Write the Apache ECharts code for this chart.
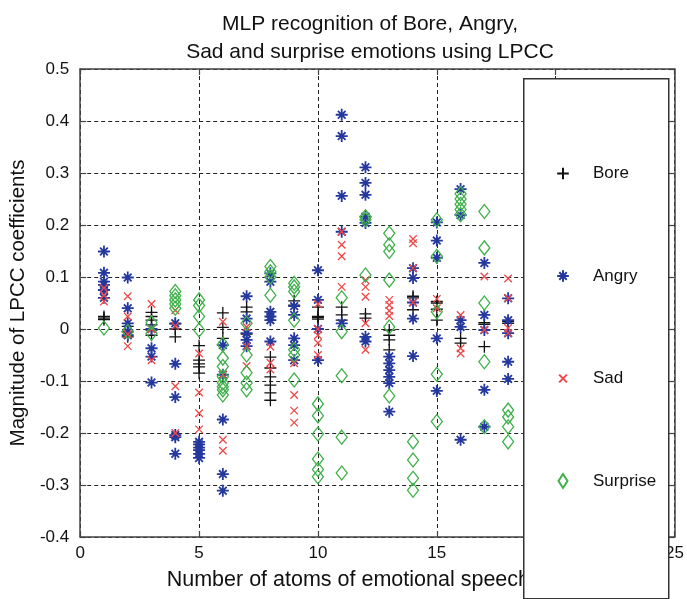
<!DOCTYPE html>
<html>
<head>
<meta charset="utf-8">
<script src="https://cdn.jsdelivr.net/npm/echarts@6/dist/echarts.min.js"></script>
<style>
html,body{margin:0;padding:0;background:#fff;}
#chart{width:687px;height:599px;}
</style>
</head>
<body>
<div id="chart"></div>
<script>
// ---- data (x = number of atoms, y = LPCC magnitude) ----
const seriesNames = ['Bore', 'Angry', 'Sad', 'Surprise'];
const xTicks = [0, 5, 10, 15, 20, 25];
const yTicks = [-0.4, -0.3, -0.2, -0.1, 0, 0.1, 0.2, 0.3, 0.4, 0.5];

const boreData = [
  [1,0.018],[1,0.021],[1,0.024],
  [2,0.005],[2,-0.005],[2,-0.015],
  [3,0.032],[3,0.024],[3,0.017],[3,0.008],[3,-0.002],[3,-0.012],
  [4,0.01],[4,0.0],[4,-0.015],
  [5,-0.032],[5,-0.06],[5,-0.067],[5,-0.073],[5,-0.085],
  [6,0.031],[6,0.003],[6,-0.018],
  [7,0.042],[7,0.033],[7,-0.01],
  [8,-0.054],[8,-0.075],[8,-0.092],[8,-0.108],[8,-0.123],[8,-0.137],
  [9,0.054],[9,0.046],
  [10,0.042],[10,0.019],[10,0.022],[10,0.024],
  [11,0.042],[11,0.027],[11,0.017],
  [12,0.029],[12,0.021],
  [13,-0.002],[13,-0.012],[13,-0.021],[13,-0.04],
  [14,0.06],[14,0.063],[14,0.037],
  [15,0.05],[15,0.053],[15,0.038],[15,0.017],
  [16,-0.018],[16,-0.027],
  [17,0.009],[17,0.012],[17,-0.034],
  [18,0.011],[18,0.014]
];
const angryData = [
  [1,0.149],[1,0.108],[1,0.091],[1,0.085],[1,0.075],[1,0.06],
  [2,0.099],[2,0.04],[2,0.011],[2,-0.005],[2,-0.012],
  [3,0.0],[3,-0.037],[3,-0.053],[3,-0.103],
  [4,0.011],[4,-0.067],[4,-0.131],[4,-0.204],[4,-0.208],[4,-0.24],
  [5,-0.217],[5,-0.222],[5,-0.228],[5,-0.233],[5,-0.24],[5,-0.248],
  [6,-0.031],[6,-0.088],[6,-0.174],[6,-0.279],[6,-0.311],
  [7,0.063],[7,0.02],[7,-0.008],[7,-0.021],[7,-0.033],
  [8,0.107],[8,0.091],[8,0.033],[8,0.024],[8,0.017],[8,-0.024],
  [9,0.044],[9,0.027],[9,-0.018],[9,-0.031],[9,-0.06],
  [10,0.113],[10,0.056],[10,0.0],[10,-0.06],
  [11,0.412],[11,0.371],[11,0.256],[11,0.187],[11,0.011],
  [12,0.311],[12,0.281],[12,0.258],[12,0.216],[12,0.204],[12,-0.015],[12,-0.024],
  [13,-0.053],[13,-0.066],[13,-0.079],[13,-0.092],[13,-0.104],[13,-0.159],
  [14,0.117],[14,0.098],[14,0.051],[14,0.02],[14,-0.052],
  [15,0.205],[15,0.17],[15,0.137],[15,-0.018],[15,-0.119],
  [16,0.269],[16,0.219],[16,0.017],[16,0.004],[16,-0.213],
  [17,0.127],[17,0.027],[17,-0.002],[17,-0.117],[17,-0.188],
  [18,0.059],[18,0.017],[18,-0.008],[18,-0.063],[18,-0.096]
];
const sadData = [
  [1,0.079],[1,0.065],[1,0.053],
  [2,0.063],[2,0.024],[2,-0.01],[2,-0.033],
  [3,0.048],[3,0.0],[3,-0.06],
  [4,0.036],[4,0.006],[4,-0.11],[4,-0.2],
  [5,-0.047],[5,-0.122],[5,-0.162],[5,-0.193],
  [6,0.014],[6,-0.088],[6,-0.213],[6,-0.234],
  [7,0.004],[7,-0.033],[7,-0.071],
  [8,-0.034],[8,-0.065],[8,-0.078],
  [9,-0.066],[9,-0.127],[9,-0.157],[9,-0.18],
  [10,0.048],[10,0.0],[10,-0.012],[10,-0.027],[10,-0.05],
  [11,0.187],[11,0.162],[11,0.14],[11,0.081],
  [12,0.094],[12,0.081],[12,0.062],[12,0.011],[12,-0.04],
  [13,0.056],[13,0.046],[13,0.035],[13,0.025],
  [14,0.173],[14,0.165],[14,0.117],[14,0.051],
  [15,0.058],[15,0.04],
  [16,0.027],[16,-0.037],[16,-0.047],
  [17,0.101],[17,-0.002],
  [18,0.097],[18,0.059],[18,0.002],[18,-0.008]
];
const surpriseData = [
  [1,0.002],
  [2,-0.005],
  [3,0.012],[3,-0.008],
  [4,0.072],[4,0.064],[4,0.056],[4,0.048],[4,0.04],
  [5,0.056],[5,0.045],[5,0.024],[5,-0.002],
  [6,-0.03],[6,-0.056],[6,-0.072],[6,-0.092],[6,-0.104],[6,-0.111],[6,-0.117],[6,-0.127],
  [7,0.011],[7,-0.05],[7,-0.084],[7,-0.104],[7,-0.117],
  [8,0.12],[8,0.11],[8,0.1],[8,0.065],
  [9,0.088],[9,0.081],[9,0.072],[9,0.017],[9,-0.04],[9,-0.05],[9,-0.098],
  [10,-0.144],[10,-0.167],[10,-0.202],[10,-0.25],[10,-0.27],[10,-0.284],
  [11,0.06],[11,-0.005],[11,-0.09],[11,-0.208],[11,-0.277],
  [12,0.216],[12,0.21],[12,0.104],
  [13,0.184],[13,0.162],[13,0.149],[13,0.094],[13,0.004],[13,-0.129],
  [14,-0.217],[14,-0.252],[14,-0.287],[14,-0.31],
  [15,0.21],[15,0.14],[15,0.033],[15,-0.087],[15,-0.178],
  [16,0.26],[16,0.25],[16,0.24],[16,0.23],[16,0.22],
  [17,0.226],[17,0.156],[17,0.05],[17,-0.063],[17,-0.188],
  [18,-0.156],[18,-0.169],[18,-0.188],[18,-0.217]
];

// ---- styling ----
const FONT = 'Liberation Sans, Arial, sans-serif';
const PLUS = 'path://M5,0L5,10M0,5L10,5';
const STAR = 'path://M5,0L5,10M0,5L10,5M1.8,1.8L8.2,8.2M8.2,1.8L1.8,8.2';
const CROSS = 'path://M0,0L10,10M10,0L0,10';
const DIAM = 'path://M5,0L10,7L5,14L0,7Z';
// legend icons padded with bounding moveTo points so they render smaller
const PLUS_L = 'path://M-1,-1M5,0L5,10M0,5L10,5M11,11';
const STAR_L = 'path://M-1,-1M5,0L5,10M0,5L10,5M1.8,1.8L8.2,8.2M8.2,1.8L1.8,8.2M11,11';
const CROSS_L = 'path://M-4,-4M0,0L10,10M10,0L0,10M14,14';
const DIAM_L = 'path://M5,0L9.5,7L5,14L0.5,7Z';

const chart = echarts.init(document.getElementById('chart'), null, {renderer: 'canvas'});

const gridLine = {show: true, lineStyle: {color: '#222', width: 1, type: [4, 3]}};
const axisLine = {show: true, onZero: false, lineStyle: {color: '#444', width: 1.5}};
const tick = {show: true, inside: true, length: 6, lineStyle: {color: '#444', width: 1.2}};
const lbl = {fontFamily: FONT, fontSize: 17, color: '#111'};

function mk(name, data, symbol, size, color, bw) {
  return {
    name: name, type: 'scatter', data: data, symbol: symbol, symbolSize: size,
    itemStyle: {color: 'transparent', borderColor: color, borderWidth: bw, opacity: 1},
    emphasis: {disabled: true}, z: 3
  };
}

chart.setOption({
  animation: false,
  backgroundColor: '#fff',
  title: {
    text: 'MLP recognition of Bore, Angry,\nSad and surprise emotions using LPCC',
    left: 365, top: 5, textAlign: 'center',
    textStyle: {fontFamily: FONT, fontSize: 21, fontWeight: 'normal', color: '#111', lineHeight: 28}
  },
  grid: {left: 79, top: 69, right: 11, bottom: 62, show: false},
  xAxis: [{
    type: 'value', min: 0, max: 25, interval: 5, position: 'bottom',
    axisLine: axisLine, axisTick: tick, splitLine: gridLine,
    axisLabel: Object.assign({margin: 8, formatter: v => String(v)}, lbl),
    name: 'Number of atoms of emotional speech', nameLocation: 'middle', nameGap: 32,
    nameTextStyle: {fontFamily: FONT, fontSize: 21.5, color: '#111', padding: [0, 58, 0, 0]}
  }, {
    type: 'value', min: 0, max: 25, interval: 5, position: 'top',
    axisLine: axisLine, axisTick: tick, splitLine: {show: false}, axisLabel: {show: false}
  }],
  yAxis: [{
    type: 'value', min: -0.4, max: 0.5, interval: 0.1, position: 'left',
    axisLine: axisLine, axisTick: tick, splitLine: gridLine,
    axisLabel: Object.assign({margin: 11, formatter: v => (Math.round(v * 10) / 10).toString()}, lbl),
    name: 'Magnitude of LPCC coefficients', nameLocation: 'middle', nameGap: 50,
    nameTextStyle: {fontFamily: FONT, fontSize: 20.5, color: '#111'}
  }, {
    type: 'value', min: -0.4, max: 0.5, interval: 0.1, position: 'right',
    axisLine: axisLine, axisTick: tick, splitLine: {show: false}, axisLabel: {show: false}
  }],
  legend: {
    orient: 'vertical', left: 555, top: 165, z: 120,
    itemWidth: 14, itemHeight: 14, itemGap: 85.5, padding: 0,
    data: [
      {name: seriesNames[0], icon: PLUS_L},
      {name: seriesNames[1], icon: STAR_L},
      {name: seriesNames[2], icon: CROSS_L},
      {name: seriesNames[3], icon: DIAM_L}
    ],
    textStyle: {fontFamily: FONT, fontSize: 17, color: '#111', padding: [0, 0, 0, 18]},
    selectedMode: false
  },
  graphic: [{
    type: 'rect', z: 100, left: 523, top: 78,
    shape: {width: 145, height: 520},
    style: {fill: '#fff', stroke: '#333', lineWidth: 1.5}
  }],
  series: [
    mk('Bore', boreData, PLUS, 12, '#111', 1.3),
    mk('Angry', angryData, STAR, 12, '#25389e', 1.8),
    mk('Sad', sadData, CROSS, 7.5, '#f04848', 1.3),
    mk('Surprise', surpriseData, DIAM, [11, 14], '#3fb04a', 1.3)
  ]
});
</script>
</body>
</html>
